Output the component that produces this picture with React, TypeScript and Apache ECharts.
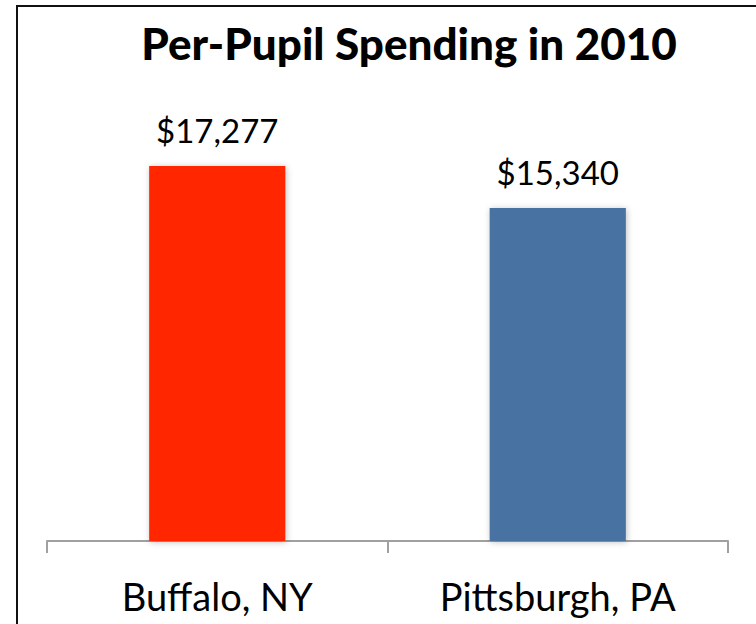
import React, { useEffect, useRef } from "react";
import * as echarts from "echarts";

const categories = ["Buffalo, NY", "Pittsburgh, PA"];
const spending = [17277, 15340];
const barColors = ["#FF2800", "#4672A2"];
const titleText = "Per-Pupil Spending in 2010";

export default function App() {
  const ref = useRef<HTMLDivElement>(null);
  useEffect(() => {
    document.body.style.margin = "0";
    const chart = echarts.init(ref.current!, null, { renderer: "svg" });
    chart.setOption({
      animation: false,
      backgroundColor: "#ffffff",
      grid: { left: 47, right: 28, top: 107, bottom: 83 },
      graphic: [
        { type: "line", shape: { x1: 17, y1: 5, x2: 17, y2: 624 }, style: { stroke: "#111", lineWidth: 2 } },
        { type: "line", shape: { x1: 16, y1: 6, x2: 756, y2: 6 }, style: { stroke: "#111", lineWidth: 2 } },
        {
          type: "text",
          x: 409,
          y: 43,
          style: {
            text: titleText,
            align: "center",
            verticalAlign: "middle",
            fontFamily: "Lato",
            fontWeight: 900,
            fontSize: 44,
            fill: "#000",
          },
        },
      ],
      xAxis: {
        type: "category",
        data: categories,
        axisLine: { lineStyle: { color: "#A0A0A0", width: 2 } },
        axisTick: { show: true, alignWithLabel: false, interval: 0, length: 12, lineStyle: { color: "#A0A0A0", width: 2 } },
        axisLabel: { fontFamily: "Lato", fontSize: 38, color: "#000", margin: 36 },
      },
      yAxis: { type: "value", min: 0, max: 20000, show: false, splitLine: { show: false } },
      series: [
        {
          type: "bar",
          barWidth: "40%",
          data: spending.map((v, i) => ({
            value: v,
            itemStyle: {
              color: barColors[i],
              shadowBlur: 6,
              shadowColor: "rgba(0,0,0,0.25)",
              shadowOffsetX: 1,
              shadowOffsetY: 1,
            },
          })),
          label: {
            show: true,
            position: "top",
            distance: 20,
            fontFamily: "Lato",
            fontSize: 33,
            color: "#000",
            formatter: (p: any) => "$" + p.value.toLocaleString("en-US"),
          },
        },
      ],
    });
    return () => chart.dispose();
  }, []);
  return <div ref={ref} style={{ width: 756, height: 624, position: "fixed", left: 0, top: 0 }} />;
}
